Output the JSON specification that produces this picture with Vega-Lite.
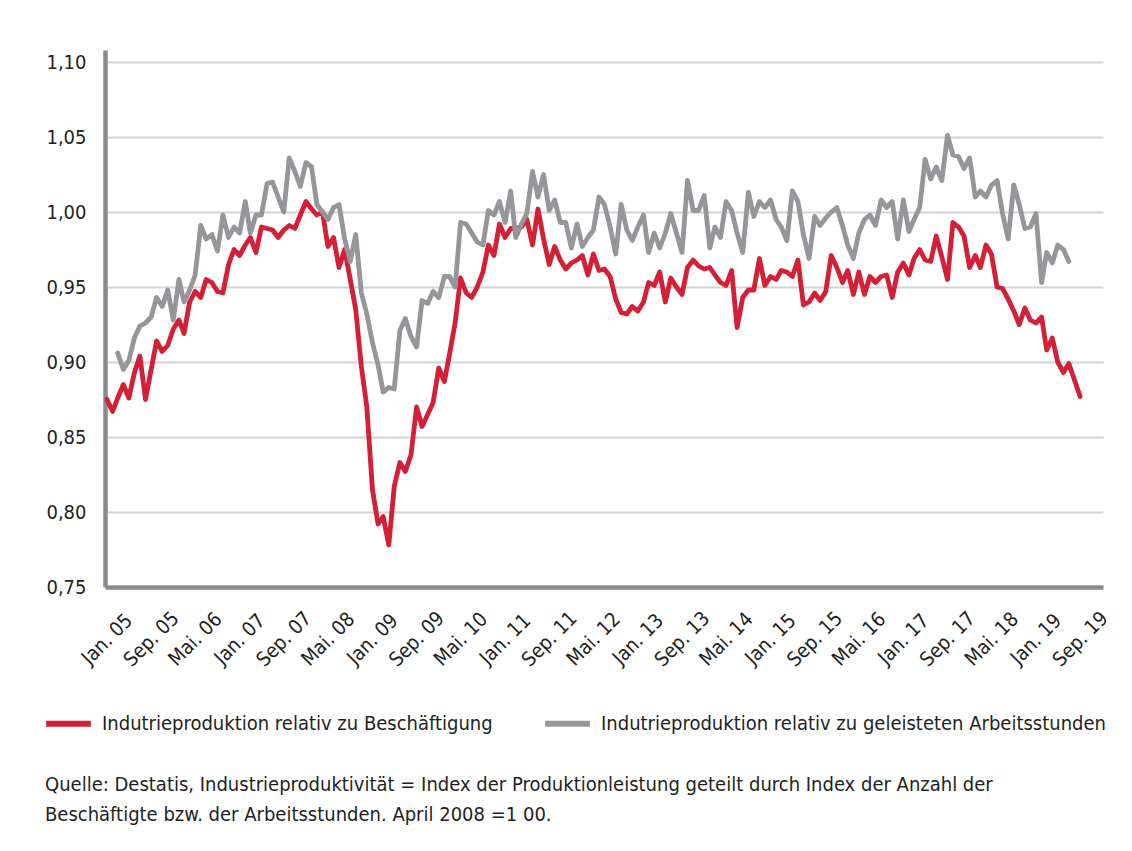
{
  "$schema": "https://vega.github.io/schema/vega-lite/v6.json",
  "autosize": {"type": "none"},
  "padding": {"left": 105, "top": 50, "right": 29, "bottom": 264},
  "width": 998,
  "height": 537,
  "background": "white",
  "config": {
    "font": "DejaVu Sans Condensed, Liberation Sans, sans-serif",
    "view": {"stroke": null},
    "axis": {"labelFont": "DejaVu Sans Condensed, Liberation Sans, sans-serif", "labelColor": "#231f20", "labelFontSize": 20, "ticks": false, "domainColor": "#8a8a8e", "domainWidth": 4.5, "title": null},
    "legend": {"labelFont": "DejaVu Sans Condensed, Liberation Sans, sans-serif"}
  },
  "title": {
    "text": ["Quelle: Destatis, Industrieproduktivität = Index der Produktionleistung geteilt durch Index der Anzahl der", "Beschäftigte bzw. der Arbeitsstunden. April 2008 =1 00."],
    "orient": "bottom",
    "anchor": "start",
    "dx": 2,
    "offset": 39,
    "font": "DejaVu Sans Condensed, Liberation Sans, sans-serif",
    "fontSize": 20,
    "fontWeight": "normal",
    "color": "#231f20",
    "lineHeight": 30
  },
  "data": {"values": [
    {"d":"2005/01/01","r":0.875},{"d":"2005/02/01","r":0.867},{"d":"2005/03/01","r":0.876,"g":0.906},{"d":"2005/04/01","r":0.885,"g":0.895},{"d":"2005/05/01","r":0.876,"g":0.901},{"d":"2005/06/01","r":0.893,"g":0.916},{"d":"2005/07/01","r":0.904,"g":0.924},{"d":"2005/08/01","r":0.875,"g":0.926},{"d":"2005/09/01","r":0.895,"g":0.930},{"d":"2005/10/01","r":0.914,"g":0.943},{"d":"2005/11/01","r":0.907,"g":0.937},{"d":"2005/12/01","r":0.911,"g":0.948},
    {"d":"2006/01/01","r":0.922,"g":0.928},{"d":"2006/02/01","r":0.928,"g":0.955},{"d":"2006/03/01","r":0.919,"g":0.940},{"d":"2006/04/01","r":0.940,"g":0.948},{"d":"2006/05/01","r":0.947,"g":0.958},{"d":"2006/06/01","r":0.943,"g":0.991},{"d":"2006/07/01","r":0.955,"g":0.982},{"d":"2006/08/01","r":0.953,"g":0.985},{"d":"2006/09/01","r":0.947,"g":0.974},{"d":"2006/10/01","r":0.946,"g":0.998},{"d":"2006/11/01","r":0.965,"g":0.983},{"d":"2006/12/01","r":0.975,"g":0.990},
    {"d":"2007/01/01","r":0.971,"g":0.986},{"d":"2007/02/01","r":0.978,"g":1.007},{"d":"2007/03/01","r":0.983,"g":0.986},{"d":"2007/04/01","r":0.973,"g":0.998},{"d":"2007/05/01","r":0.990,"g":0.998},{"d":"2007/06/01","r":0.989,"g":1.019},{"d":"2007/07/01","r":0.988,"g":1.020},{"d":"2007/08/01","r":0.983,"g":1.010},{"d":"2007/09/01","r":0.988,"g":1.000},{"d":"2007/10/01","r":0.991,"g":1.036},{"d":"2007/11/01","r":0.989,"g":1.027},{"d":"2007/12/01","r":0.998,"g":1.017},
    {"d":"2008/01/01","r":1.007,"g":1.033},{"d":"2008/02/01","r":1.002,"g":1.030},{"d":"2008/03/01","r":0.998,"g":1.005},{"d":"2008/04/01","r":1.000,"g":1.000},{"d":"2008/05/01","r":0.977,"g":0.995},{"d":"2008/06/01","r":0.983,"g":1.003},{"d":"2008/07/01","r":0.963,"g":1.005},{"d":"2008/08/01","r":0.975,"g":0.982},{"d":"2008/09/01","r":0.955,"g":0.967},{"d":"2008/10/01","r":0.935,"g":0.985},{"d":"2008/11/01","r":0.897,"g":0.946},{"d":"2008/12/01","r":0.870,"g":0.932},
    {"d":"2009/01/01","r":0.815,"g":0.913},{"d":"2009/02/01","r":0.792,"g":0.898},{"d":"2009/03/01","r":0.797,"g":0.880},{"d":"2009/04/01","r":0.778,"g":0.883},{"d":"2009/05/01","r":0.817,"g":0.882},{"d":"2009/06/01","r":0.833,"g":0.921},{"d":"2009/07/01","r":0.827,"g":0.929},{"d":"2009/08/01","r":0.838,"g":0.917},{"d":"2009/09/01","r":0.870,"g":0.910},{"d":"2009/10/01","r":0.857,"g":0.941},{"d":"2009/11/01","r":0.865,"g":0.939},{"d":"2009/12/01","r":0.873,"g":0.947},
    {"d":"2010/01/01","r":0.896,"g":0.943},{"d":"2010/02/01","r":0.887,"g":0.957},{"d":"2010/03/01","r":0.905,"g":0.957},{"d":"2010/04/01","r":0.926,"g":0.950},{"d":"2010/05/01","r":0.956,"g":0.993},{"d":"2010/06/01","r":0.946,"g":0.992},{"d":"2010/07/01","r":0.943,"g":0.986},{"d":"2010/08/01","r":0.950,"g":0.980},{"d":"2010/09/01","r":0.960,"g":0.978},{"d":"2010/10/01","r":0.978,"g":1.001},{"d":"2010/11/01","r":0.971,"g":0.998},{"d":"2010/12/01","r":0.992,"g":1.007},
    {"d":"2011/01/01","r":0.983,"g":0.993},{"d":"2011/02/01","r":0.989,"g":1.014},{"d":"2011/03/01","r":0.989,"g":0.983},{"d":"2011/04/01","r":0.990,"g":0.992},{"d":"2011/05/01","r":0.995,"g":0.999},{"d":"2011/06/01","r":0.978,"g":1.027},{"d":"2011/07/01","r":1.002,"g":1.010},{"d":"2011/08/01","r":0.982,"g":1.025},{"d":"2011/09/01","r":0.965,"g":1.001},{"d":"2011/10/01","r":0.977,"g":1.008},{"d":"2011/11/01","r":0.968,"g":0.993},{"d":"2011/12/01","r":0.962,"g":0.993},
    {"d":"2012/01/01","r":0.966,"g":0.976},{"d":"2012/02/01","r":0.968,"g":0.992},{"d":"2012/03/01","r":0.971,"g":0.977},{"d":"2012/04/01","r":0.958,"g":0.983},{"d":"2012/05/01","r":0.972,"g":0.988},{"d":"2012/06/01","r":0.961,"g":1.010},{"d":"2012/07/01","r":0.962,"g":1.005},{"d":"2012/08/01","r":0.957,"g":0.990},{"d":"2012/09/01","r":0.942,"g":0.972},{"d":"2012/10/01","r":0.933,"g":1.005},{"d":"2012/11/01","r":0.932,"g":0.988},{"d":"2012/12/01","r":0.937,"g":0.981},
    {"d":"2013/01/01","r":0.934,"g":0.990},{"d":"2013/02/01","r":0.940,"g":0.998},{"d":"2013/03/01","r":0.953,"g":0.973},{"d":"2013/04/01","r":0.951,"g":0.986},{"d":"2013/05/01","r":0.960,"g":0.976},{"d":"2013/06/01","r":0.940,"g":0.986},{"d":"2013/07/01","r":0.956,"g":0.999},{"d":"2013/08/01","r":0.950,"g":0.986},{"d":"2013/09/01","r":0.945,"g":0.973},{"d":"2013/10/01","r":0.963,"g":1.021},{"d":"2013/11/01","r":0.968,"g":1.001},{"d":"2013/12/01","r":0.964,"g":1.001},
    {"d":"2014/01/01","r":0.962,"g":1.011},{"d":"2014/02/01","r":0.963,"g":0.976},{"d":"2014/03/01","r":0.958,"g":0.990},{"d":"2014/04/01","r":0.953,"g":0.983},{"d":"2014/05/01","r":0.951,"g":1.007},{"d":"2014/06/01","r":0.961,"g":1.001},{"d":"2014/07/01","r":0.923,"g":0.986},{"d":"2014/08/01","r":0.943,"g":0.973},{"d":"2014/09/01","r":0.948,"g":1.013},{"d":"2014/10/01","r":0.948,"g":0.997},{"d":"2014/11/01","r":0.969,"g":1.007},{"d":"2014/12/01","r":0.951,"g":1.003},
    {"d":"2015/01/01","r":0.957,"g":1.008},{"d":"2015/02/01","r":0.955,"g":0.995},{"d":"2015/03/01","r":0.961,"g":0.990},{"d":"2015/04/01","r":0.960,"g":0.981},{"d":"2015/05/01","r":0.957,"g":1.014},{"d":"2015/06/01","r":0.968,"g":1.007},{"d":"2015/07/01","r":0.938,"g":0.985},{"d":"2015/08/01","r":0.940,"g":0.969},{"d":"2015/09/01","r":0.946,"g":0.997},{"d":"2015/10/01","r":0.941,"g":0.991},{"d":"2015/11/01","r":0.947,"g":0.996},{"d":"2015/12/01","r":0.971,"g":1.000},
    {"d":"2016/01/01","r":0.963,"g":1.003},{"d":"2016/02/01","r":0.953,"g":0.991},{"d":"2016/03/01","r":0.961,"g":0.978},{"d":"2016/04/01","r":0.945,"g":0.969},{"d":"2016/05/01","r":0.960,"g":0.986},{"d":"2016/06/01","r":0.945,"g":0.995},{"d":"2016/07/01","r":0.957,"g":0.998},{"d":"2016/08/01","r":0.953,"g":0.991},{"d":"2016/09/01","r":0.957,"g":1.008},{"d":"2016/10/01","r":0.958,"g":1.003},{"d":"2016/11/01","r":0.943,"g":1.007},{"d":"2016/12/01","r":0.960,"g":0.982},
    {"d":"2017/01/01","r":0.966,"g":1.008},{"d":"2017/02/01","r":0.958,"g":0.987},{"d":"2017/03/01","r":0.969,"g":0.995},{"d":"2017/04/01","r":0.975,"g":1.003},{"d":"2017/05/01","r":0.968,"g":1.035},{"d":"2017/06/01","r":0.967,"g":1.022},{"d":"2017/07/01","r":0.984,"g":1.030},{"d":"2017/08/01","r":0.970,"g":1.021},{"d":"2017/09/01","r":0.955,"g":1.051},{"d":"2017/10/01","r":0.993,"g":1.038},{"d":"2017/11/01","r":0.990,"g":1.037},{"d":"2017/12/01","r":0.984,"g":1.029},
    {"d":"2018/01/01","r":0.963,"g":1.036},{"d":"2018/02/01","r":0.971,"g":1.010},{"d":"2018/03/01","r":0.963,"g":1.014},{"d":"2018/04/01","r":0.978,"g":1.010},{"d":"2018/05/01","r":0.972,"g":1.018},{"d":"2018/06/01","r":0.950,"g":1.021},{"d":"2018/07/01","r":0.949,"g":0.999},{"d":"2018/08/01","r":0.942,"g":0.982},{"d":"2018/09/01","r":0.934,"g":1.018},{"d":"2018/10/01","r":0.925,"g":1.005},{"d":"2018/11/01","r":0.936,"g":0.989},{"d":"2018/12/01","r":0.928,"g":0.990},
    {"d":"2019/01/01","r":0.926,"g":0.999},{"d":"2019/02/01","r":0.930,"g":0.953},{"d":"2019/03/01","r":0.908,"g":0.973},{"d":"2019/04/01","r":0.916,"g":0.966},{"d":"2019/05/01","r":0.900,"g":0.978},{"d":"2019/06/01","r":0.893,"g":0.975},{"d":"2019/07/01","r":0.899,"g":0.967},{"d":"2019/08/01","r":0.888},{"d":"2019/09/01","r":0.877}
  ]},
  "transform": [
    {"fold": ["r", "g"], "as": ["s", "v"]},
    {"filter": "isValid(datum.v)"}
  ],
  "mark": {"type": "line", "strokeWidth": 4.8, "strokeCap": "round", "strokeJoin": "round"},
  "encoding": {
    "x": {
      "field": "d", "type": "temporal",
      "scale": {"domain": [{"year": 2004, "month": 12, "date": 21}, {"year": 2020, "month": 1, "date": 5}]},
      "axis": {
        "values": [
          {"year": 2005, "month": 1, "date": 1}, {"year": 2005, "month": 9, "date": 1}, {"year": 2006, "month": 5, "date": 1},
          {"year": 2007, "month": 1, "date": 1}, {"year": 2007, "month": 9, "date": 1}, {"year": 2008, "month": 5, "date": 1},
          {"year": 2009, "month": 1, "date": 1}, {"year": 2009, "month": 9, "date": 1}, {"year": 2010, "month": 5, "date": 1},
          {"year": 2011, "month": 1, "date": 1}, {"year": 2011, "month": 9, "date": 1}, {"year": 2012, "month": 5, "date": 1},
          {"year": 2013, "month": 1, "date": 1}, {"year": 2013, "month": 9, "date": 1}, {"year": 2014, "month": 5, "date": 1},
          {"year": 2015, "month": 1, "date": 1}, {"year": 2015, "month": 9, "date": 1}, {"year": 2016, "month": 5, "date": 1},
          {"year": 2017, "month": 1, "date": 1}, {"year": 2017, "month": 9, "date": 1}, {"year": 2018, "month": 5, "date": 1},
          {"year": 2019, "month": 1, "date": 1}, {"year": 2019, "month": 9, "date": 1}
        ],
        "labelExpr": "(month(datum.value) == 4 ? 'Mai' : timeFormat(datum.value, '%b')) + '. ' + timeFormat(datum.value, '%y')",
        "labelAngle": -45,
        "labelAlign": "center",
        "labelBaseline": "middle",
        "labelPadding": 52,
        "labelOverlap": false,
        "labelFlush": false,
        "grid": false
      }
    },
    "y": {
      "field": "v", "type": "quantitative",
      "scale": {"domain": [0.75, 1.108], "nice": false, "zero": false},
      "axis": {
        "values": [0.75, 0.8, 0.85, 0.9, 0.95, 1.0, 1.05, 1.1],
        "labelExpr": "replace(format(datum.value, '.2f'), '.', ',')",
        "labelPadding": 19,
        "grid": true,
        "gridColor": "#d3d3d3",
        "gridWidth": 2
      }
    },
    "color": {
      "field": "s", "type": "nominal",
      "scale": {"domain": ["r", "g"], "range": ["#d42036", "#96969a"]},
      "legend": {
        "title": null,
        "orient": "none",
        "legendX": -62,
        "legendY": 648,
        "direction": "horizontal",
        "symbolType": "stroke",
        "symbolStrokeWidth": 6,
        "symbolSize": 2000,
        "labelFontSize": 20,
        "labelColor": "#231f20",
        "labelOffset": 8,
        "columnPadding": 40,
        "labelLimit": 700,
        "labelExpr": "datum.label == 'r' ? 'Indutrieproduktion relativ zu Beschäftigung' : 'Indutrieproduktion relativ zu geleisteten Arbeitsstunden'"
      }
    },
    "order": {"field": "s", "sort": "ascending"}
  }
}
